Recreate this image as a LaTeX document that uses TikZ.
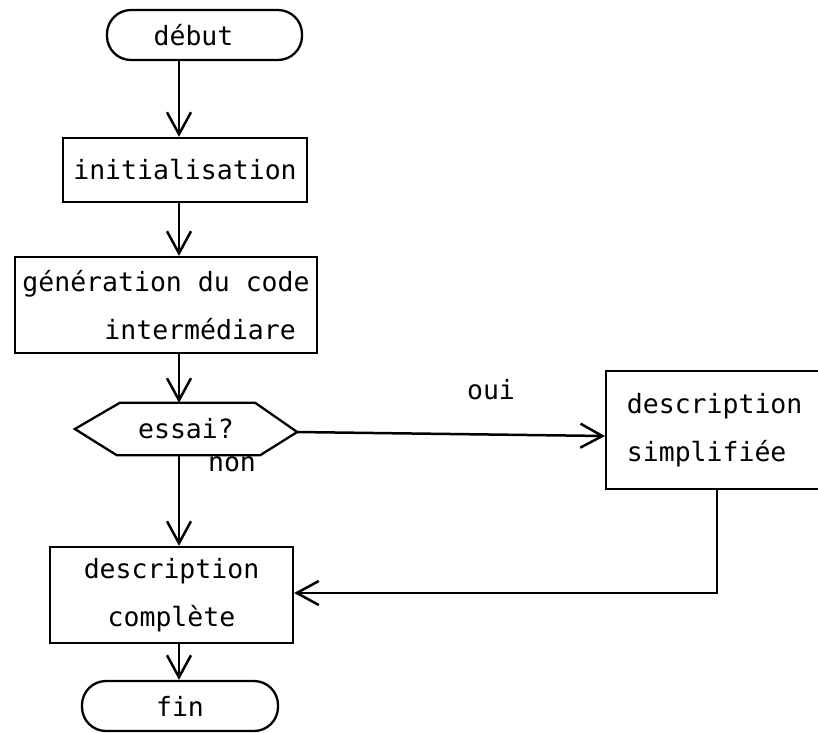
\documentclass[tikz,border=0pt]{standalone}
\usepackage{fontspec}
\setmainfont{DejaVu Sans Mono}
\usetikzlibrary{arrows.meta,calc}
\begin{document}
\begin{tikzpicture}[x=1pt,y=-1pt,
  every node/.style={font=\fontsize{26.5}{48}\selectfont, inner sep=0pt},
  box/.style={draw, line width=2.3pt, minimum width=#1},
  term/.style={draw, line width=2.3pt, rounded corners=24pt, minimum width=#1, minimum height=50pt},
  flow/.style={line width=2.5pt, -{Straight Barb[length=22pt,width=24pt,line width=2.5pt]}}
]
\useasboundingbox (0,0) rectangle (818,732);
\coordinate (spine) at (179,0);
\coordinate (fb) at (717,0);

\node[term=195pt] (debut) at (204.5,35) {\hspace*{-22pt}d\'ebut};
\node[box=244pt, minimum height=64pt] (init) at (185,170) {initialisation};
\node[box=302pt, minimum height=96pt, align=left] (gen) at (166,305)
  {g\'en\'eration du code\\\hspace*{82pt}interm\'ediare};
\node[minimum width=222pt, minimum height=52pt] (essai) at (186,429) {essai?};
\draw[line width=2.3pt] (essai.west) -- ($(essai.north west)+(45,0)$) -- ($(essai.north east)+(-42,0)$)
  -- ($(essai.east)+(0,3)$) -- ($(essai.south east)+(-37,0)$) -- ($(essai.south west)+(42,0)$) -- cycle;
\node[box=217pt, minimum height=118pt, align=left, anchor=west] (simp) at (605,430)
  {description\\simplifi\'ee};
\node[box=243pt, minimum height=96pt, align=center] (comp) at (171.5,595)
  {description\\compl\`ete};
\node[term=196pt] (fin) at (180,706) {fin};

\node (oui) at (491,390) {oui};
\node (non) at (232,464) {non};

\draw[flow] (debut.south -| spine) -- (init.north -| spine);
\draw[flow] (init.south -| spine) -- (gen.north -| spine);
\draw[flow] (gen.south -| spine) -- (essai.north -| spine);
\draw[flow] (essai.south -| spine) -- (comp.north -| spine);
\draw[flow] (comp.south -| spine) -- (fin.north -| spine);
\draw[flow] ($(essai.east)+(0,3)$) -- ($(simp.west)+(0,6)$);
\draw[flow] (simp.south -| fb) |- ($(comp.east)+(0,-2)$);
\end{tikzpicture}
\end{document}
